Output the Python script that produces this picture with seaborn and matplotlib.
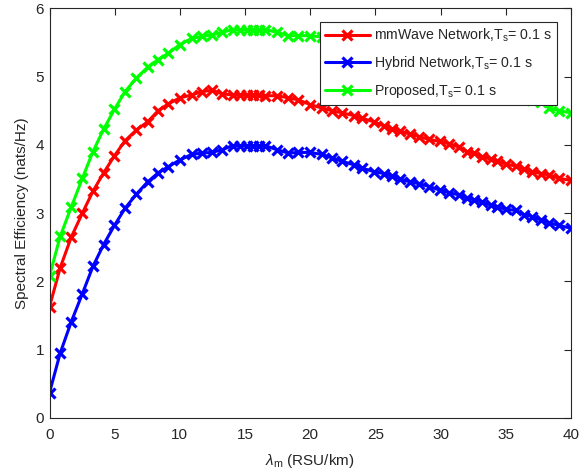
import matplotlib
matplotlib.use("Agg")
import matplotlib.pyplot as plt
import seaborn as sns
import pandas as pd

lam = [0, 0.82, 1.67, 2.52, 3.33, 4.15, 4.98, 5.79, 6.67, 7.54,
       8.33, 9.10, 10.0, 10.9, 11.67, 12.44, 13.27, 14.04, 14.62, 15.13, 15.64, 16.08, 16.54,
       17.44, 18.33, 19.10, 20.0, 20.9, 21.67, 22.44, 23.33, 23.98,
       24.87, 25.64, 26.28, 26.92, 27.62, 28.38, 29.15, 29.92, 30.62, 31.38, 32.05,
       32.56, 33.21, 33.85, 34.36, 35.0, 35.77, 36.41, 37.05, 37.69, 38.33, 39.10, 40.0]

mmwave = [1.63, 2.20, 2.65, 3.00, 3.32, 3.59, 3.84, 4.06, 4.22, 4.34,
          4.50, 4.60, 4.69, 4.73, 4.78, 4.80, 4.75, 4.73, 4.73, 4.73, 4.73, 4.73, 4.72,
          4.72, 4.69, 4.66, 4.59, 4.54, 4.50, 4.47, 4.43, 4.39,
          4.34, 4.28, 4.23, 4.20, 4.16, 4.12, 4.08, 4.05, 4.02, 3.97, 3.90,
          3.88, 3.83, 3.79, 3.76, 3.72, 3.69, 3.65, 3.61, 3.58, 3.56, 3.51, 3.48]

hybrid = [0.37, 0.95, 1.41, 1.82, 2.22, 2.54, 2.82, 3.07, 3.28, 3.46,
          3.59, 3.68, 3.78, 3.86, 3.88, 3.89, 3.93, 3.99, 3.99, 3.99, 3.99, 3.99, 3.99,
          3.93, 3.88, 3.89, 3.89, 3.86, 3.81, 3.76, 3.71, 3.66,
          3.61, 3.58, 3.54, 3.50, 3.46, 3.43, 3.39, 3.34, 3.30, 3.27, 3.22,
          3.20, 3.16, 3.12, 3.09, 3.06, 3.04, 2.98, 2.95, 2.90, 2.86, 2.82, 2.78]

proposed = [2.08, 2.66, 3.09, 3.51, 3.90, 4.23, 4.52, 4.78, 4.98, 5.14,
            5.25, 5.34, 5.47, 5.56, 5.59, 5.61, 5.65, 5.69, 5.69, 5.69, 5.69, 5.69, 5.69,
            5.65, 5.60, 5.60, 5.60, 5.58, 5.54, 5.50, 5.45, 5.41,
            5.36, 5.30, 5.25, 5.21, 5.17, 5.12, 5.08, 5.04, 5.00, 4.95, 4.89,
            4.86, 4.82, 4.79, 4.76, 4.73, 4.70, 4.68, 4.66, 4.63, 4.54, 4.50, 4.47]

labels = ["mmWave Network,T$_{\\rm s}$= 0.1 s",
          "Hybrid Network,T$_{\\rm s}$= 0.1 s",
          "Proposed,T$_{\\rm s}$= 0.1 s"]
colors = ["#ff0000", "#0000ff", "#00ff00"]
x_ticks = [0, 5, 10, 15, 20, 25, 30, 35, 40]
y_ticks = [0, 1, 2, 3, 4, 5, 6]

sns.set_style("white")
plt.rcParams['font.family'] = ['Liberation Sans', 'DejaVu Sans']
plt.rcParams['mathtext.fontset'] = 'custom'
plt.rcParams['mathtext.rm'] = 'Liberation Sans'
plt.rcParams['mathtext.it'] = 'Liberation Sans:italic'

fig = plt.figure(figsize=(5.79, 4.73), dpi=100)
ax = fig.add_axes([0.0855, 0.1163, 0.9005, 0.866])

for vals, lab, col in zip([mmwave, hybrid, proposed], labels, colors):
    df = pd.DataFrame({"lam": lam, "se": vals})
    sns.lineplot(data=df, x="lam", y="se", ax=ax, color=col, label=lab,
                 linewidth=2.2, marker="x", markersize=7, markeredgewidth=2.3,
                 markeredgecolor=col, sort=False)

ax.set_xlim(0, 40)
ax.set_ylim(0, 6)
ax.set_xticks(x_ticks)
ax.set_yticks(y_ticks)
ax.tick_params(direction="in", length=5, width=0.8, top=True, right=True,
               labelsize=11, colors="#262626")
ax.tick_params(axis="x", pad=7.5)
ax.tick_params(axis="y", pad=4)
for s in ax.spines.values():
    s.set_visible(True)
    s.set_color("#262626")
    s.set_linewidth(0.8)
ax.set_xlabel("$\\lambda_{\\rm m}$ (RSU/km)", fontsize=11, color="#262626", labelpad=7)
ax.set_ylabel("Spectral Efficiency (nats/Hz)", fontsize=11, color="#262626", labelpad=5)

leg = ax.legend(loc="upper right", bbox_to_anchor=(0.973, 0.967), fontsize=10.2,
                frameon=True, fancybox=False, framealpha=1, edgecolor="#262626",
                handlelength=3.2, borderpad=0.35, labelspacing=0.7, handletextpad=0.3,
                borderaxespad=0)
leg.get_frame().set_linewidth(0.8)

fig.savefig("out.png", dpi=100)
